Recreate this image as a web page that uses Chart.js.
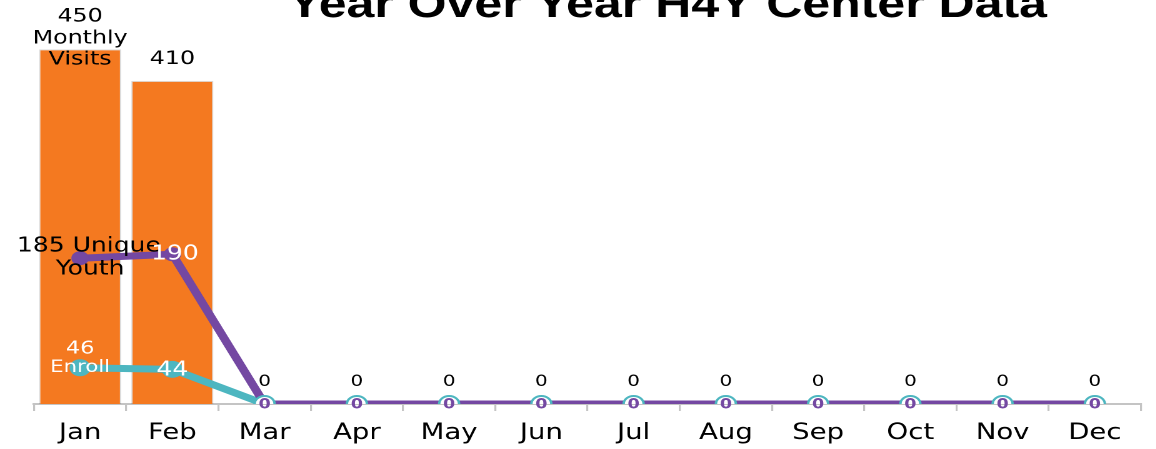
<!DOCTYPE html>
<html>
<head>
<meta charset="utf-8">
<script src="https://cdn.jsdelivr.net/npm/chart.js@4.4.1/dist/chart.umd.min.js"></script>
<style>
  html, body { margin: 0; padding: 0; background: #ffffff; overflow: hidden; }
  #page { width: 1156px; height: 449px; position: relative; overflow: hidden; }
  #wrap { width: 925px; height: 449px; position: absolute; left: 0; top: 0;
          transform: scaleX(1.25); transform-origin: 0 0; }
</style>
</head>
<body>
<div id="page"><div id="wrap"><canvas id="c" width="925" height="449"></canvas></div></div>
<script>
// ---- data ----
const months = ['Jan','Feb','Mar','Apr','May','Jun','Jul','Aug','Sep','Oct','Nov','Dec'];
const monthlyVisits = [450, 410, 0, 0, 0, 0, 0, 0, 0, 0, 0, 0];
const uniqueYouth   = [185, 190, 0, 0, 0, 0, 0, 0, 0, 0, 0, 0];
const enroll        = [46, 44, 0, 0, 0, 0, 0, 0, 0, 0, 0, 0];
const titleText = 'Year Over Year H4Y Center Data';
const visitsName = ['Monthly', 'Visits'];
const youthName = ['Unique', 'Youth'];
const enrollName = 'Enroll';

const ORANGE = '#F47920';
const PURPLE = '#7448A2';
const TEAL = '#4DB6C0';

const zeroIdx = (arr, yes, no) => arr.map(v => v === 0 ? yes : no);

const labelPlugin = {
  id: 'labels',
  afterDatasetsDraw(chart) {
    const ctx = chart.ctx;
    const x = chart.scales.x, y = chart.scales.y;
    ctx.save();
    ctx.textAlign = 'center';
    ctx.textBaseline = 'middle';
    const txt = (s, px, py, font, color) => { ctx.font = font; ctx.fillStyle = color; ctx.fillText(s, px, py); };
    const F = (sz, w) => (w || 'normal') + ' ' + sz + 'px "DejaVu Sans"';

    // bar labels
    monthlyVisits.forEach((v, i) => {
      const px = x.getPixelForValue(i), py = y.getPixelForValue(v);
      if (i === 0) {
        txt(String(v), px, py - 33, F(19), '#000');
        txt(visitsName[0], px, py - 11, F(19), '#000');
        txt(visitsName[1], px, py + 10, F(19), '#000');
      } else {
        txt(String(v), px, py - 22, F(v === 0 ? 16 : 19), '#000');
      }
    });
    // unique youth labels
    uniqueYouth.forEach((v, i) => {
      const px = x.getPixelForValue(i), py = y.getPixelForValue(v);
      if (i === 0) {
        txt(v + ' ' + youthName[0], px + 7, py - 12, F(20), '#000');
        txt(youthName[1], px + 8, py + 11, F(20), '#000');
      } else if (v !== 0) {
        txt(String(v), px + 2, py, F(20), '#ffffff');
      } else {
        txt(String(v), px, py + 1, F(14, 'bold'), PURPLE);
      }
    });
    // enroll labels
    enroll.forEach((v, i) => {
      const px = x.getPixelForValue(i), py = y.getPixelForValue(v);
      if (i === 0) {
        txt(String(v), px, py - 19, F(18), '#ffffff');
        txt(enrollName, px, py, F(17), '#ffffff');
      } else if (v !== 0) {
        txt(String(v), px, py + 1, F(20), '#ffffff');
      }
    });
    ctx.restore();
  },
  afterDraw(chart) {
    const ctx = chart.ctx;
    ctx.save();
    ctx.textAlign = 'center';
    ctx.textBaseline = 'alphabetic';
    ctx.font = 'bold 40px "Liberation Sans"';
    ctx.fillStyle = '#000';
    ctx.fillText(titleText, 534, 17);
    ctx.restore();
  }
};

new Chart(document.getElementById('c'), {
  data: {
    labels: months,
    datasets: [
      {
        type: 'line', label: 'Unique Youth', data: uniqueYouth, order: 1,
        borderColor: PURPLE, borderWidth: 7,
        pointRadius: zeroIdx(uniqueYouth, 8, 7),
        pointBackgroundColor: zeroIdx(uniqueYouth, '#ffffff', PURPLE),
        pointBorderColor: zeroIdx(uniqueYouth, TEAL, PURPLE),
        pointBorderWidth: zeroIdx(uniqueYouth, 2, 0),
        tension: 0
      },
      {
        type: 'line', label: 'Enroll', data: enroll, order: 2,
        borderColor: TEAL, borderWidth: 7,
        pointRadius: 8.5,
        pointBackgroundColor: TEAL, pointBorderColor: TEAL, pointBorderWidth: 0,
        tension: 0
      },
      {
        type: 'bar', label: 'Monthly Visits', data: monthlyVisits, order: 3,
        backgroundColor: ORANGE, borderColor: 'rgba(0,0,0,0.15)', borderWidth: 1,
        categoryPercentage: 1.0, barPercentage: 0.89
      }
    ]
  },
  options: {
    responsive: false,
    animation: false,
    devicePixelRatio: 2,
    layout: { padding: { left: 27.2, right: 12.2, top: 7, bottom: 0 } },
    plugins: { legend: { display: false }, title: { display: false }, tooltip: { enabled: false } },
    scales: {
      x: {
        offset: true,
        grid: { offset: true, drawOnChartArea: false, drawTicks: true, tickLength: 7, color: '#c4c4c4', lineWidth: 1.6 },
        border: { display: true, color: '#c4c4c4', width: 2 },
        ticks: { color: '#000', font: { family: '"DejaVu Sans"', size: 22 }, padding: 9, maxRotation: 0 },
        afterFit(s) { s.height = 45; }
      },
      y: { display: false, min: 0, max: 500 }
    }
  },
  plugins: [labelPlugin]
});
</script>
</body>
</html>
